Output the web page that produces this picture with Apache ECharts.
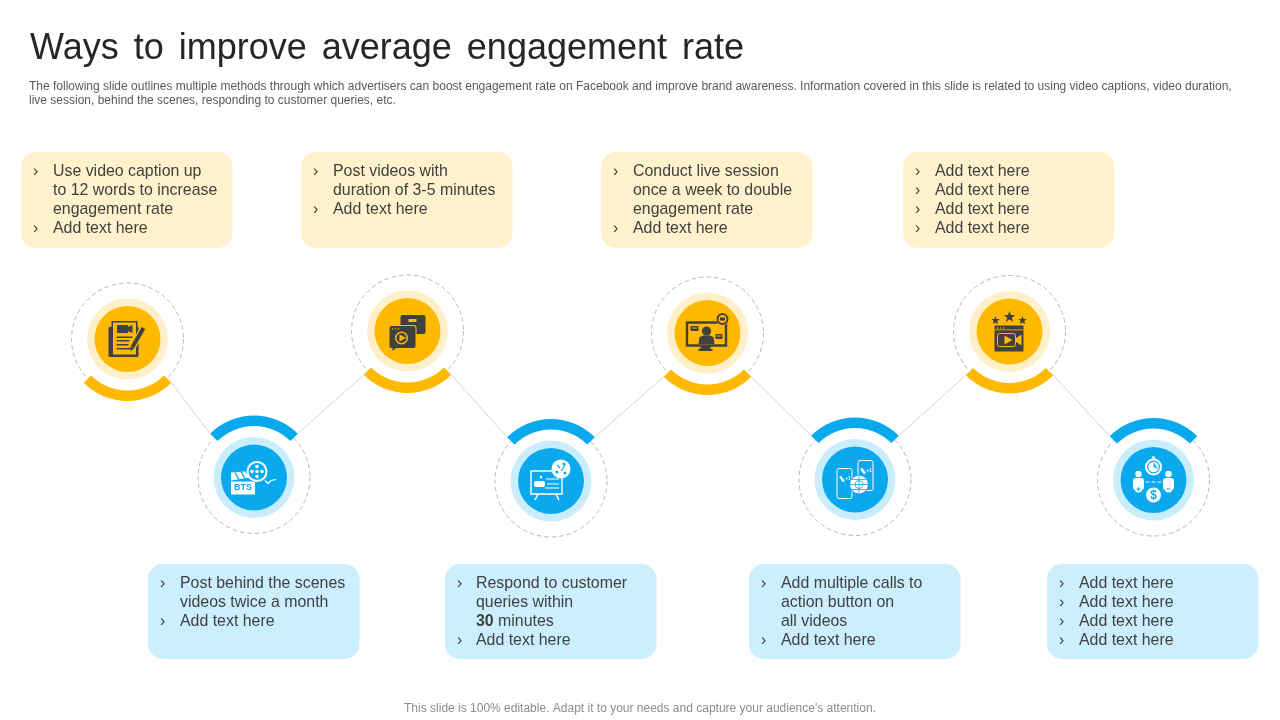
<!DOCTYPE html>
<html lang="en">
<head>
    <meta charset="UTF-8">
    <title>Ways to improve average engagement rate</title>
    <style>
        html, body { margin: 0; padding: 0; background: #fff; }
        #container { width: 1280px; height: 720px; }
    </style>
</head>
<body>
    <div id="container"></div>
    <script src="https://cdn.jsdelivr.net/npm/echarts@6/dist/echarts.min.js"></script>
    <script>
        // the {s| } tokens are plain spaces set larger, the slide title has wide word gaps
        var titleText = 'Ways{s| }to{s| }improve{s| }average{s| }engagement{s| }rate';
        var introText = 'The following slide outlines multiple methods through which advertisers can boost engagement rate on Facebook and improve brand awareness. Information covered in this slide is related to using video captions, video duration,\nlive session, behind the scenes, responding to customer queries, etc.';
        var footerText = "This slide is 100% editable. Adapt it to your needs and capture your audience's attention.";

        // step centres, in slide pixels
        var nodeX = [127.5, 254, 407.5, 551, 707.5, 855, 1009.5, 1153.5];
        var nodeY = [339, 477.5, 331, 481, 333, 479.5, 331.5, 480];

        // note boxes, same order as the steps
        var boxLeft = [21, 148, 301, 445, 601, 749, 903, 1047];
        var boxNotes = [
            ['› Use video caption up', 'to 12 words to increase', 'engagement rate', '› Add text here'],
            ['› Post behind the scenes', 'videos twice a month', '› Add text here'],
            ['› Post videos with', 'duration of 3-5 minutes', '› Add text here'],
            ['› Respond to customer', 'queries within', '{b|30} minutes', '› Add text here'],
            ['› Conduct live session', 'once a week to double', 'engagement rate', '› Add text here'],
            ['› Add multiple calls to', 'action button on', 'all videos', '› Add text here'],
            ['› Add text here', '› Add text here', '› Add text here', '› Add text here'],
            ['› Add text here', '› Add text here', '› Add text here', '› Add text here']
        ];

        var YELLOW = '#ffb900', YELLOW_HALO = '#fff0c9', YELLOW_BOX = '#fff2cc';
        var BLUE = '#0aa9ee', BLUE_HALO = '#c9edfd', BLUE_BOX = '#cbefff';
        var DARK = '#404040', WHITE = '#ffffff';

        function R(x, y, w, h, fill, r) {
            return { type: 'rect', shape: { x: x, y: y, width: w, height: h, r: r || 0 }, style: { fill: fill } };
        }
        function B(x, y, w, h, stroke, lw, r) {
            return { type: 'rect', shape: { x: x, y: y, width: w, height: h, r: r || 0 }, style: { fill: 'none', stroke: stroke, lineWidth: lw } };
        }
        function C(x, y, r, fill) {
            return { type: 'circle', shape: { cx: x, cy: y, r: r }, style: { fill: fill } };
        }
        function O(x, y, r, stroke, lw) {
            return { type: 'circle', shape: { cx: x, cy: y, r: r }, style: { fill: 'none', stroke: stroke, lineWidth: lw } };
        }
        function L(x1, y1, x2, y2, stroke, lw) {
            return { type: 'line', shape: { x1: x1, y1: y1, x2: x2, y2: y2 }, style: { stroke: stroke, lineWidth: lw } };
        }
        function P(points, fill) {
            return { type: 'polygon', shape: { points: points }, style: { fill: fill } };
        }
        function T(text, x, y, fill, font) {
            return { type: 'text', style: { text: text, x: x, y: y, fill: fill, font: font, align: 'center', verticalAlign: 'middle' } };
        }
        function star(x, y, r, fill) {
            var pts = [];
            for (var i = 0; i < 10; i++) {
                var a = -Math.PI / 2 + i * Math.PI / 5, rr = i % 2 ? r * 0.42 : r;
                pts.push([x + rr * Math.cos(a), y + rr * Math.sin(a)]);
            }
            return P(pts, fill);
        }
        function person(x, y, fill) {
            return [C(x, y - 7, 3.2, fill), R(x - 5.5, y - 3, 11, 12, fill, 3)];
        }

        // icons are drawn around the step centre, in the same order as the steps
        var icons = [
            function () { // script and pen
                return [
                    R(-19, -12, 30, 30, DARK, 1), R(-16, -18, 26, 35, DARK), R(-14.5, -16.5, 23, 32, YELLOW),
                    R(-10.5, -14, 11, 8, DARK), P([[0, -12], [5, -14], [5, -6], [0, -8]], DARK),
                    R(-11, -2.5, 16, 1.5, DARK), R(-11, 1, 13, 1.5, DARK), R(-11, 5, 12, 1.5, DARK), R(-11, 9, 16, 1.5, DARK),
                    L(16, -11, 5, 8, YELLOW, 6.5), L(16, -11, 5, 8, DARK, 4), P([[3, 7], [7, 9.5], [3, 12]], DARK)
                ];
            },
            function () { // clapper and film reel
                return [
                    P([[-23, -5], [-9, -6], [-4, 0], [-23, 3]], WHITE),
                    L(-19, -5, -15, 2, BLUE, 1.5), L(-13, -6, -9, 1, BLUE, 1.5),
                    R(-23, 4, 24, 13, WHITE), T('BTS', -11, 10.5, BLUE, 'bold 9px "Liberation Sans"'),
                    C(3, -6, 10.5, WHITE), C(3, -6, 8.5, BLUE), C(3, -6, 1.8, WHITE), C(3, -11, 1.8, WHITE), C(3, -1, 1.8, WHITE),
                    C(-2, -6, 1.8, WHITE), C(8, -6, 1.8, WHITE),
                    L(11, 3, 14, 6, WHITE, 1.2), L(14, 6, 17, 3, WHITE, 1.2), L(17, 3, 22, 2, WHITE, 1.2)
                ];
            },
            function () { // video windows
                return [
                    R(-7, -16, 25, 19, DARK, 2), R(1, -12, 8, 3, YELLOW),
                    R(-19, -6, 28, 24, YELLOW, 3), R(-18, -5, 26, 22, DARK, 2), P([[-15, 15], [-9, 15], [-15, 20]], DARK),
                    C(-15, -2, 0.7, YELLOW), C(-12, -2, 0.7, YELLOW), C(-9, -2, 0.7, YELLOW),
                    C(-6, 7, 6.5, YELLOW), C(-6, 7, 5, DARK), P([[-8, 3.5], [-1.5, 7], [-8, 10.5]], YELLOW)
                ];
            },
            function () { // presentation board
                return [
                    B(-20, -10, 31, 23, WHITE, 1.4), L(-13, 13, -16, 19, WHITE, 1.6), L(5, 13, 8, 19, WHITE, 1.6),
                    R(-17, 0, 11, 6, WHITE, 2), C(-10, -4, 1.2, WHITE),
                    L(-5, -2, 8, -2, WHITE, 1), L(-4, 3, 8, 3, WHITE, 1), L(-6, 7, 8, 7, WHITE, 1),
                    C(10, -12, 9.5, WHITE), L(6, -16, 9, -13, BLUE, 1.2), L(14, -16, 10, -10, BLUE, 1.2),
                    C(6, -9, 1.5, BLUE), C(14, -8, 1.5, BLUE), C(13, -17, 1.5, BLUE)
                ];
            },
            function () { // live session on a monitor
                return [
                    B(-20.5, -10.5, 39, 23, DARK, 2.4), R(-7, 13, 10, 3, DARK), R(-9, 16, 14, 2, DARK),
                    C(-1, -2, 4.6, DARK), P([[-9, 11], [-8, 4], [-4, 2.5], [2, 2.5], [6, 4], [7, 11]], DARK),
                    C(15, -14, 6.5, YELLOW), O(15, -14, 5, DARK, 2), R(12.5, -15.5, 5, 3, DARK),
                    R(-17, -7, 8, 5, DARK, 1), R(-15.5, -5.5, 5, 1, YELLOW), R(8, 1, 7, 5, DARK, 1), R(9.5, 2.5, 4, 1, YELLOW)
                ];
            },
            function () { // phones and globe
                return [
                    B(-18, -11, 15, 30, WHITE, 1, 2), B(3, -19, 15, 30, WHITE, 1, 2),
                    L(-15, -3, -11, 2, WHITE, 2.4), T('+1', -7, -1, WHITE, 'bold 5px "Liberation Sans"'),
                    L(6, -11, 10, -6, WHITE, 2.4), T('+1', 14, -9, WHITE, 'bold 5px "Liberation Sans"'),
                    C(4, 5, 10, BLUE), C(4, 5, 9, WHITE), O(4, 5, 4, BLUE, 0.8), L(-5, 5, 13, 5, BLUE, 0.8), L(4, -4, 4, 14, BLUE, 0.8),
                    L(-3, 0, 11, 0, BLUE, 0.8), L(-3, 10, 11, 10, BLUE, 0.8)
                ];
            },
            function () { // rated video
                return [
                    star(-14, -11, 4.5, DARK), star(0, -14.5, 6, DARK), star(13, -11, 4.5, DARK),
                    R(-15, -6, 29, 26, DARK), C(-12, -3.5, 0.7, YELLOW), C(-9, -3.5, 0.7, YELLOW), C(-6, -3.5, 0.7, YELLOW),
                    R(-15, -2, 29, 0.8, YELLOW),
                    B(-12, 2, 18, 13, YELLOW, 1, 2), P([[6, 7], [12, 3], [12, 14], [6, 10]], YELLOW), P([[-5, 4], [3, 8.5], [-5, 13]], YELLOW)
                ];
            },
            function () { // stopwatch, people and price
                return [
                    C(0, -13, 8.5, WHITE), C(0, -13, 6.5, BLUE), C(0, -13, 5.3, WHITE), P([[0, -13], [0, -18], [4.5, -11]], BLUE), R(-1.5, -23.5, 3, 2, WHITE)
                ].concat(person(-15, 1, WHITE), person(15, 1, WHITE), [
                    C(-15, 9, 3.6, WHITE), L(-17, 9, -13, 9, BLUE, 1), L(-15, 7, -15, 11, BLUE, 1),
                    C(15, 9, 3.6, WHITE), L(13, 9, 17, 9, BLUE, 1),
                    L(-8, 2, -4, 2, WHITE, 1), L(-2, 2, 2, 2, WHITE, 1), L(4, 2, 8, 2, WHITE, 1),
                    C(0, 15, 7.5, WHITE), T('$', 0, 15.5, BLUE, 'bold 12px "Liberation Sans"')
                ]);
            }
        ];

        // connectors run between the ends of neighbouring arcs
        var END = 44;
        var linkData = [];
        for (var i = 0; i < nodeX.length - 1; i++) {
            var down = nodeY[i] < nodeY[i + 1] ? 1 : -1;
            linkData.push([nodeX[i] + END, nodeY[i] + down * END]);
            linkData.push([nodeX[i + 1] - END, nodeY[i + 1] - down * END]);
            linkData.push(['-', '-']);
        }

        function renderNode(params, api) {
            var i = params.dataIndex;
            var p = api.coord([nodeX[i], nodeY[i]]);
            var top = i % 2 === 0;
            var main = top ? YELLOW : BLUE;
            var children = [
                { type: 'circle', shape: { cx: 0, cy: 0, r: 56 }, style: { fill: 'none', stroke: '#b8b8b8', lineWidth: 1, lineDash: [4.5, 3] } },
                { type: 'sector', shape: { cx: 0, cy: 0, r0: 51.5, r: 62,
                    startAngle: top ? Math.PI / 4 : Math.PI * 5 / 4,
                    endAngle: top ? Math.PI * 3 / 4 : Math.PI * 7 / 4 }, style: { fill: main } },
                C(0, 0, 40.5, top ? YELLOW_HALO : BLUE_HALO),
                C(0, 0, 33, main)
            ].concat(icons[i]());
            return { type: 'group', x: p[0], y: p[1], children: children };
        }

        function renderBox(params, api) {
            var i = params.dataIndex;
            var top = i % 2 === 0;
            var p = api.coord([boxLeft[i], top ? 152 : 564]);
            var children = [R(0, 0, 211.5, top ? 96 : 95, top ? YELLOW_BOX : BLUE_BOX, 15)];
            boxNotes[i].forEach(function (line, k) {
                var y = 19.5 + 19 * k;
                var bullet = line.charAt(0) === '›';
                if (bullet) {
                    children.push({ type: 'text', style: { text: '›', x: 12, y: y, fill: DARK, font: '15.9px "Liberation Sans"', align: 'left', verticalAlign: 'middle' } });
                }
                children.push({ type: 'text', style: {
                    text: bullet ? line.slice(2) : line, x: i === 3 ? 31 : 32, y: y + 0.5, fill: DARK,
                    font: '15.9px "Liberation Sans"', align: 'left', verticalAlign: 'middle',
                    rich: { b: { fontWeight: 'bold', fontSize: 15.9, fontFamily: 'Liberation Sans', fill: DARK } }
                } });
            });
            return { type: 'group', x: p[0], y: p[1], children: children };
        }

        var myChart = echarts.init(document.getElementById('container'));
        var option = {
            animation: false,
            backgroundColor: '#ffffff',
            title: [
                {
                    text: titleText, left: 30, top: 29, padding: 0,
                    textStyle: {
                        fontFamily: 'Liberation Sans', fontSize: 36, fontWeight: 'normal', color: '#262626', lineHeight: 40,
                        rich: { s: { fontFamily: 'Liberation Sans', fontSize: 54, lineHeight: 40 } }
                    }
                },
                { text: introText, left: 29, top: 80, padding: 0, textStyle: { fontFamily: 'Liberation Sans', fontSize: 12, fontWeight: 'normal', color: '#595959', lineHeight: 14 } },
                { text: footerText, left: 'center', top: 703, padding: 0, textStyle: { fontFamily: 'Liberation Sans', fontSize: 12, fontWeight: 'normal', color: '#8c8c8c' } }
            ],
            grid: { left: 0, right: 0, top: 0, bottom: 0 },
            xAxis: { type: 'value', min: 0, max: 1280, show: false },
            yAxis: { type: 'value', min: 0, max: 720, inverse: true, show: false },
            series: [
                {
                    type: 'line',
                    data: linkData,
                    symbol: 'none',
                    silent: true,
                    lineStyle: { color: '#d2d2d2', width: 1 }
                },
                {
                    type: 'custom',
                    coordinateSystem: 'cartesian2d',
                    data: nodeX.map(function (x, i) { return [x, nodeY[i]]; }),
                    renderItem: renderNode,
                    clip: false,
                    silent: true
                },
                {
                    type: 'custom',
                    coordinateSystem: 'cartesian2d',
                    data: boxLeft.map(function (x) { return [x]; }),
                    renderItem: renderBox,
                    clip: false,
                    silent: true
                }
            ]
        };
        myChart.setOption(option);
    </script>
</body>
</html>
